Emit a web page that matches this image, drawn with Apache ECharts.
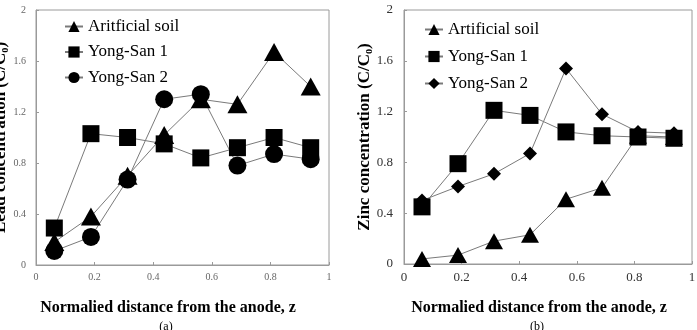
<!DOCTYPE html>
<html>
<head>
<meta charset="utf-8">
<script src="https://cdn.jsdelivr.net/npm/echarts@6/dist/echarts.min.js"></script>
<style>
  html, body { margin: 0; padding: 0; background: #fff; }
  #wrap { position: relative; width: 697px; height: 330px; overflow: hidden; }
  #chartA { position: absolute; left: 0; top: 0; width: 350px; height: 330px; }
  #chartB { position: absolute; left: 350px; top: 0; width: 347px; height: 330px; }
</style>
</head>
<body>
<div id="wrap"><div id="chartA"></div><div id="chartB"></div></div>
<script>
// normalized distance of the 8 sections
const zPos = [0.0625, 0.1875, 0.3125, 0.4375, 0.5625, 0.6875, 0.8125, 0.9375]

// (a) lead
const leadArtificial = [0.18, 0.38, 0.70, 1.02, 1.30, 1.26, 1.67, 1.40]
const leadYongSan1 = [0.29, 1.03, 1.00, 0.95, 0.84, 0.92, 1.00, 0.92]
const leadYongSan2 = [0.11, 0.22, 0.67, 1.30, 1.34, 0.78, 0.87, 0.83]

// (b) zinc
const zincArtificial = [0.04, 0.07, 0.18, 0.23, 0.51, 0.60, 1.01, 1.00]
const zincYongSan1 = [0.45, 0.79, 1.21, 1.17, 1.04, 1.01, 1.00, 0.99]
const zincYongSan2 = [0.50, 0.61, 0.71, 0.87, 1.54, 1.18, 1.04, 1.03]

const xTicks = { min: 0, max: 1, interval: 0.2 }
const yTicks = { min: 0, max: 2, interval: 0.4 }

const SERIF = "'Liberation Serif', 'Times New Roman', serif"
const AXIS_GRAY = '#9a9a9a'
const LINE_GRAY = '#7a7a7a'

function pts(values) {
  return zPos.map((z, i) => [z, values[i]])
}

function lineSeries(name, values, symbol, size) {
  return {
    name,
    type: 'line',
    data: pts(values),
    symbol,
    symbolSize: size,
    showAllSymbol: true,
    lineStyle: { color: LINE_GRAY, width: 1 },
    itemStyle: { color: '#000' },
    emphasis: { disabled: true },
    z: 3,
  }
}

function buildOption(cfg) {
  return {
    animation: false,
    backgroundColor: '#fff',
    grid: {
      ...cfg.grid,
      containLabel: false,
      outerBoundsMode: 'none',
      show: true,
      borderColor: AXIS_GRAY,
      borderWidth: 1,
      backgroundColor: 'transparent',
    },
    legend: {
      orient: 'vertical',
      left: cfg.legend.left,
      top: cfg.legend.top,
      padding: 0,
      itemWidth: 18,
      itemHeight: 14,
      itemGap: cfg.legend.itemGap,
      selectedMode: false,
      textStyle: { fontFamily: SERIF, fontSize: 17, color: '#000' },
    },
    xAxis: {
      type: 'value',
      ...xTicks,
      axisLine: { show: true, lineStyle: { color: AXIS_GRAY } },
      axisTick: { show: true, inside: true, length: 3, lineStyle: { color: AXIS_GRAY } },
      splitLine: { show: false },
      axisLabel: { fontFamily: SERIF, fontSize: cfg.tickSize, color: cfg.tickColor, margin: 7 },
    },
    yAxis: {
      type: 'value',
      ...yTicks,
      name: cfg.yName,
      nameLocation: 'middle',
      nameGap: cfg.yNameGap,
      nameMoveOverlap: false,
      nameTextStyle: { fontFamily: SERIF, fontSize: 17, fontWeight: 'bold', color: '#000' },
      axisLine: { show: true, lineStyle: { color: AXIS_GRAY } },
      axisTick: { show: true, inside: true, length: 3, lineStyle: { color: AXIS_GRAY } },
      splitLine: { show: false },
      axisLabel: { fontFamily: SERIF, fontSize: cfg.tickSize, color: cfg.tickColor, margin: cfg.yLabelMargin },
    },
    graphic: [
      {
        type: 'text',
        x: cfg.titleX, y: 308,
        style: {
          text: 'Normalied distance from the anode, z',
          font: 'bold 16px ' + SERIF,
          fill: '#000',
          align: 'center', verticalAlign: 'middle',
        },
      },
      {
        type: 'text',
        x: cfg.titleX - 2, y: 327,
        style: {
          text: cfg.panel,
          font: '12px ' + SERIF,
          fill: '#000',
          align: 'center', verticalAlign: 'middle',
        },
      },
    ],
    series: cfg.series,
  }
}

const chartA = echarts.init(document.getElementById('chartA'), null, { renderer: 'canvas' })
chartA.setOption(buildOption({
  grid: { left: 36, right: 21, top: 10, bottom: 65 },
  legend: { left: 64, top: 18, itemGap: 8.5 },
  yName: 'Lead concentration (C/C\u2080)',
  yNameGap: 27,
  yLabelMargin: 10,
  tickSize: 10,
  tickColor: '#666',
  titleX: 168,
  panel: '(a)',
  series: [
    lineSeries('Aritficial soil', leadArtificial, 'triangle', [20, 18]),
    lineSeries('Yong-San 1', leadYongSan1, 'rect', 17),
    lineSeries('Yong-San 2', leadYongSan2, 'circle', 18),
  ],
}))

const chartB = echarts.init(document.getElementById('chartB'), null, { renderer: 'canvas' })
chartB.setOption(buildOption({
  grid: { left: 54, right: 5, top: 10, bottom: 66 },
  legend: { left: 74, top: 21, itemGap: 10 },
  yName: 'Zinc concentration (C/C\u2080)',
  yNameGap: 31,
  yLabelMargin: 11,
  tickSize: 13,
  tickColor: '#333',
  titleX: 189,
  panel: '(b)',
  series: [
    lineSeries('Artificial soil', zincArtificial, 'triangle', [18, 16]),
    lineSeries('Yong-San 1', zincYongSan1, 'rect', 17),
    lineSeries('Yong-San 2', zincYongSan2, 'diamond', 14),
  ],
}))
</script>
</body>
</html>
